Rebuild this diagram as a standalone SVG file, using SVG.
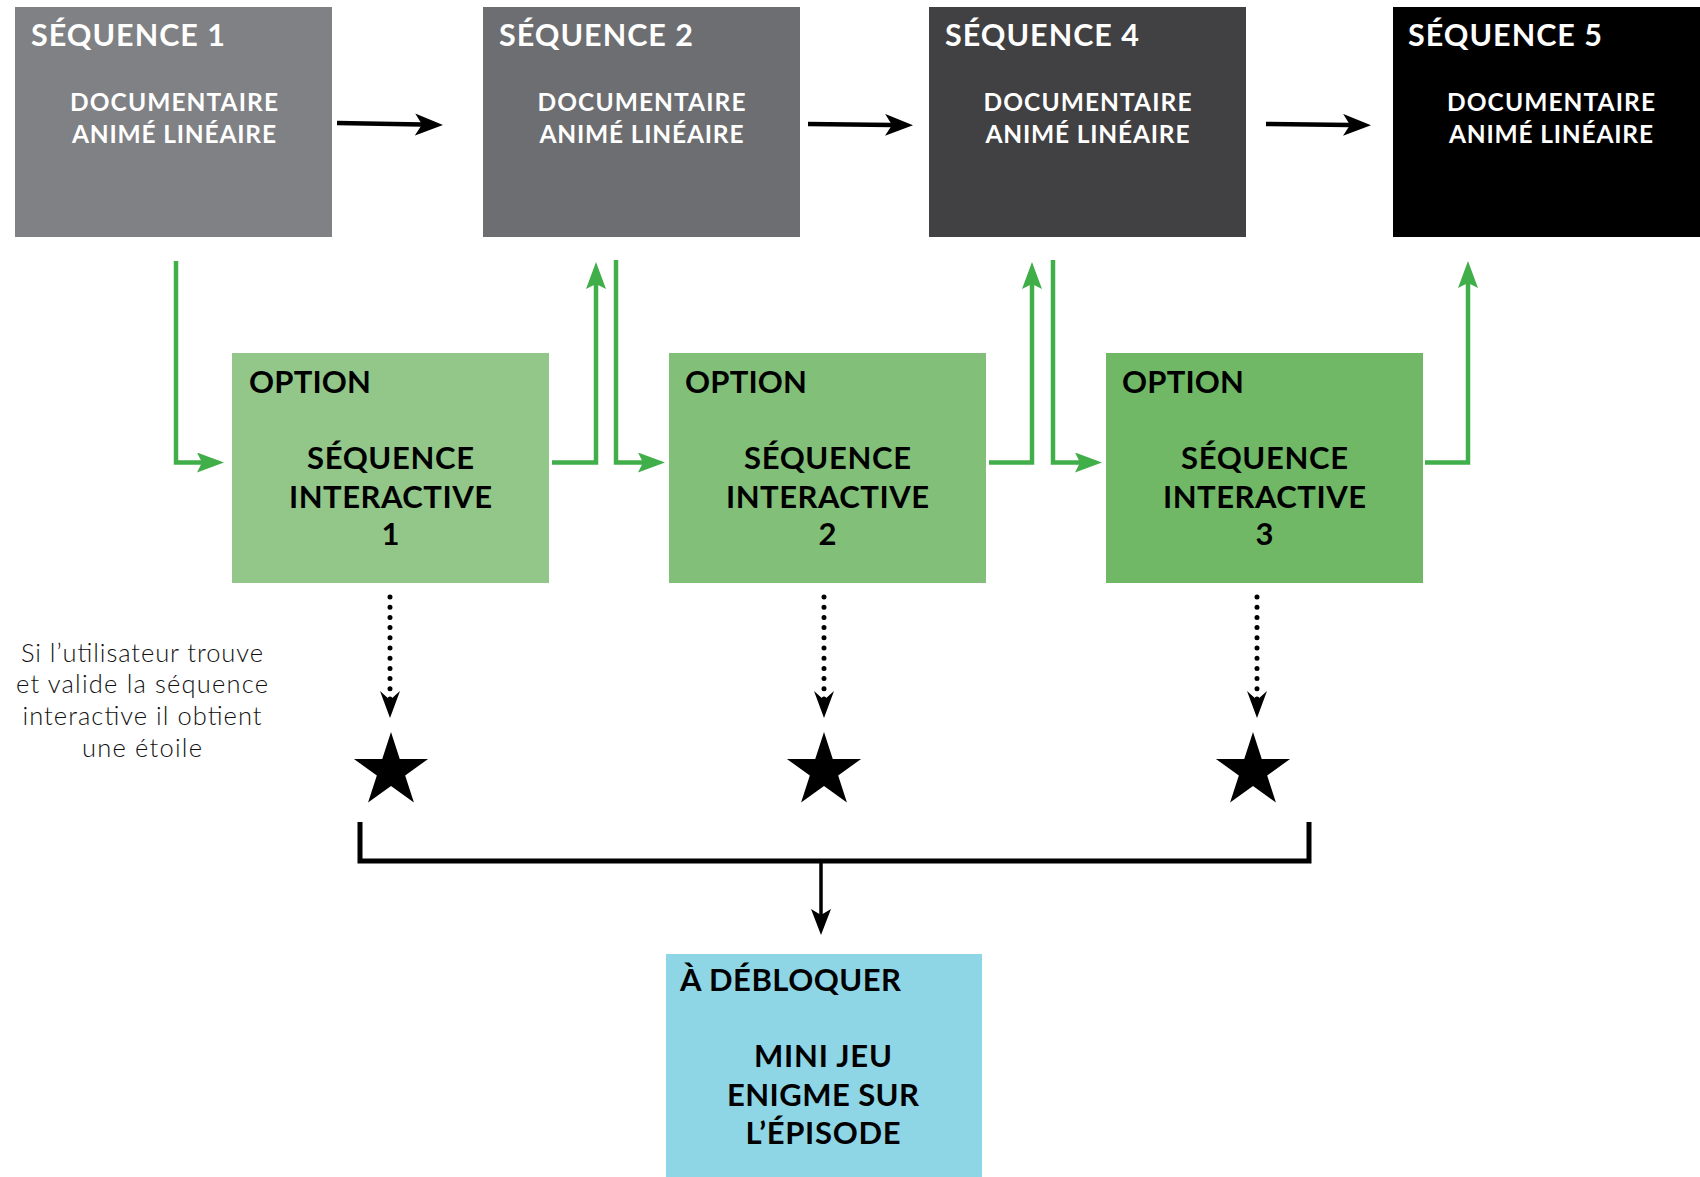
<svg xmlns="http://www.w3.org/2000/svg" width="1700" height="1177" viewBox="0 0 1700 1177">
<style>
  .t { font-family: Lato, "Liberation Sans", sans-serif; font-weight: 700; }
  .ttl { font-size: 30.5px; fill: #ffffff; }
  .sub { font-size: 24.5px; fill: #ffffff; text-anchor: middle; }
  .opt { font-size: 31px; fill: #000000; }
  .optc { font-size: 31px; fill: #000000; text-anchor: middle; }
  .cap { font-family: Lato, "Liberation Sans", sans-serif; font-weight: 300; font-size: 25.5px; fill: #111111; text-anchor: middle; }
  .blk { fill: none; stroke: #000000; stroke-width: 4.5; }
  .grn { fill: none; stroke: #40ae49; stroke-width: 4.5; stroke-linejoin: miter; }
  .dot { fill: none; stroke: #000000; stroke-width: 5; stroke-linecap: round; stroke-dasharray: 0 10.2; }
  .star { fill: #000000; }
</style>
<defs>
  <marker id="ahBlack" markerUnits="userSpaceOnUse" markerWidth="30" markerHeight="24" refX="7" refY="11" orient="auto">
    <path d="M0,0 L28,11 L0,22 L7,11 Z" fill="#000000"/>
  </marker>
  <marker id="ahGreen" markerUnits="userSpaceOnUse" markerWidth="30" markerHeight="22" refX="5" refY="10" orient="auto">
    <path d="M0,0 L27,10 L0,20 L5,10 Z" fill="#40ae49"/>
  </marker>
  <marker id="ahDot" markerUnits="userSpaceOnUse" markerWidth="30" markerHeight="22" refX="9" refY="10" orient="auto">
    <path d="M0,0 L27,10 L0,20 L9,10 Z" fill="#000000"/>
  </marker>
  <marker id="ahThin" markerUnits="userSpaceOnUse" markerWidth="30" markerHeight="22" refX="6" refY="10" orient="auto">
    <path d="M0,0 L26,10 L0,20 L6,10 Z" fill="#000000"/>
  </marker>
  <path id="starShape" d="M0,-39 L8.76,-12.05 L37.09,-12.05 L14.17,4.6 L22.92,31.55 L0,14.9 L-22.92,31.55 L-14.17,4.6 L-37.09,-12.05 L-8.76,-12.05 Z"/>
</defs>

<g id="connectors">
  <path class="blk" d="M337,123 L422,124.6" marker-end="url(#ahBlack)"/>
  <path class="blk" d="M808,124 L892,125" marker-end="url(#ahBlack)"/>
  <path class="blk" d="M1266,124 L1350,125" marker-end="url(#ahBlack)"/>
  <path class="grn" d="M176,261 V462.5 H202" marker-end="url(#ahGreen)"/>
  <path class="grn" d="M552,462.5 H596 V284" marker-end="url(#ahGreen)"/>
  <path class="grn" d="M616,260 V462.5 H643" marker-end="url(#ahGreen)"/>
  <path class="grn" d="M989,462.5 H1032 V284" marker-end="url(#ahGreen)"/>
  <path class="grn" d="M1053,260 V462.5 H1080" marker-end="url(#ahGreen)"/>
  <path class="grn" d="M1425,462.5 H1468 V283" marker-end="url(#ahGreen)"/>
  <path class="dot" d="M390,597 V700" marker-end="url(#ahDot)"/>
  <path class="dot" d="M824,597 V700" marker-end="url(#ahDot)"/>
  <path class="dot" d="M1257,597 V700" marker-end="url(#ahDot)"/>
  <path d="M360,822 V861 H1309 V822" fill="none" stroke="#000000" stroke-width="5" stroke-linejoin="miter"/>
  <path d="M821,861 V915" fill="none" stroke="#000000" stroke-width="3.5" marker-end="url(#ahThin)"/>
</g>

<g id="seq1">
  <rect x="15" y="7" width="317" height="230" fill="#808184"/>
  <text class="t ttl" x="31" y="46" textLength="194" lengthAdjust="spacing">SÉQUENCE 1</text>
  <text class="t sub" x="174" y="111" textLength="208" lengthAdjust="spacing">DOCUMENTAIRE</text>
  <text class="t sub" x="174" y="143" textLength="204" lengthAdjust="spacing">ANIMÉ LINÉAIRE</text>
</g>
<g id="seq2">
  <rect x="483" y="7" width="317" height="230" fill="#6d6e71"/>
  <text class="t ttl" x="499" y="46" textLength="194" lengthAdjust="spacing">SÉQUENCE 2</text>
  <text class="t sub" x="641.5" y="111" textLength="208" lengthAdjust="spacing">DOCUMENTAIRE</text>
  <text class="t sub" x="641.5" y="143" textLength="204" lengthAdjust="spacing">ANIMÉ LINÉAIRE</text>
</g>
<g id="seq4">
  <rect x="929" y="7" width="317" height="230" fill="#414042"/>
  <text class="t ttl" x="945" y="46" textLength="194" lengthAdjust="spacing">SÉQUENCE 4</text>
  <text class="t sub" x="1087.5" y="111" textLength="208" lengthAdjust="spacing">DOCUMENTAIRE</text>
  <text class="t sub" x="1087.5" y="143" textLength="204" lengthAdjust="spacing">ANIMÉ LINÉAIRE</text>
</g>
<g id="seq5">
  <rect x="1393" y="7" width="317" height="230" fill="#000000"/>
  <text class="t ttl" x="1408" y="46" textLength="194" lengthAdjust="spacing">SÉQUENCE 5</text>
  <text class="t sub" x="1551" y="111" textLength="208" lengthAdjust="spacing">DOCUMENTAIRE</text>
  <text class="t sub" x="1551" y="143" textLength="204" lengthAdjust="spacing">ANIMÉ LINÉAIRE</text>
</g>

<g id="opt1">
  <rect x="232" y="353" width="317" height="230" fill="#93c78a"/>
  <text class="t opt" x="249" y="393" textLength="122" lengthAdjust="spacing">OPTION</text>
  <text class="t optc" x="390.5" y="469" textLength="167" lengthAdjust="spacing">SÉQUENCE</text>
  <text class="t optc" x="390.5" y="508" textLength="203" lengthAdjust="spacing">INTERACTIVE</text>
  <text class="t optc" x="390.5" y="545">1</text>
</g>
<g id="opt2">
  <rect x="669" y="353" width="317" height="230" fill="#82bf79"/>
  <text class="t opt" x="685" y="393" textLength="122" lengthAdjust="spacing">OPTION</text>
  <text class="t optc" x="827.5" y="469" textLength="167" lengthAdjust="spacing">SÉQUENCE</text>
  <text class="t optc" x="827.5" y="508" textLength="203" lengthAdjust="spacing">INTERACTIVE</text>
  <text class="t optc" x="827.5" y="545">2</text>
</g>
<g id="opt3">
  <rect x="1106" y="353" width="317" height="230" fill="#70b866"/>
  <text class="t opt" x="1122" y="393" textLength="122" lengthAdjust="spacing">OPTION</text>
  <text class="t optc" x="1264.5" y="469" textLength="167" lengthAdjust="spacing">SÉQUENCE</text>
  <text class="t optc" x="1264.5" y="508" textLength="203" lengthAdjust="spacing">INTERACTIVE</text>
  <text class="t optc" x="1264.5" y="545">3</text>
</g>

<g id="caption">
  <text class="cap" x="142" y="662" textLength="242" lengthAdjust="spacing">Si l’utilisateur trouve</text>
  <text class="cap" x="142" y="693" textLength="252" lengthAdjust="spacing">et valide la séquence</text>
  <text class="cap" x="142" y="725" textLength="239" lengthAdjust="spacing">interactive il obtient</text>
  <text class="cap" x="142" y="757" textLength="120" lengthAdjust="spacing">une étoile</text>
</g>

<g id="star1"><use href="#starShape" class="star" transform="translate(391,771)"/></g>
<g id="star2"><use href="#starShape" class="star" transform="translate(824,771)"/></g>
<g id="star3"><use href="#starShape" class="star" transform="translate(1253,771)"/></g>

<g id="minigame">
  <rect x="666" y="954" width="316" height="240" fill="#8ed6e6"/>
  <text class="t opt" x="680" y="991" textLength="221" lengthAdjust="spacing">À DÉBLOQUER</text>
  <text class="t optc" x="823" y="1067" textLength="138" lengthAdjust="spacing">MINI JEU</text>
  <text class="t optc" x="823" y="1106" textLength="192" lengthAdjust="spacing">ENIGME SUR</text>
  <text class="t optc" x="823" y="1144" textLength="155" lengthAdjust="spacing">L’ÉPISODE</text>
</g>
</svg>
